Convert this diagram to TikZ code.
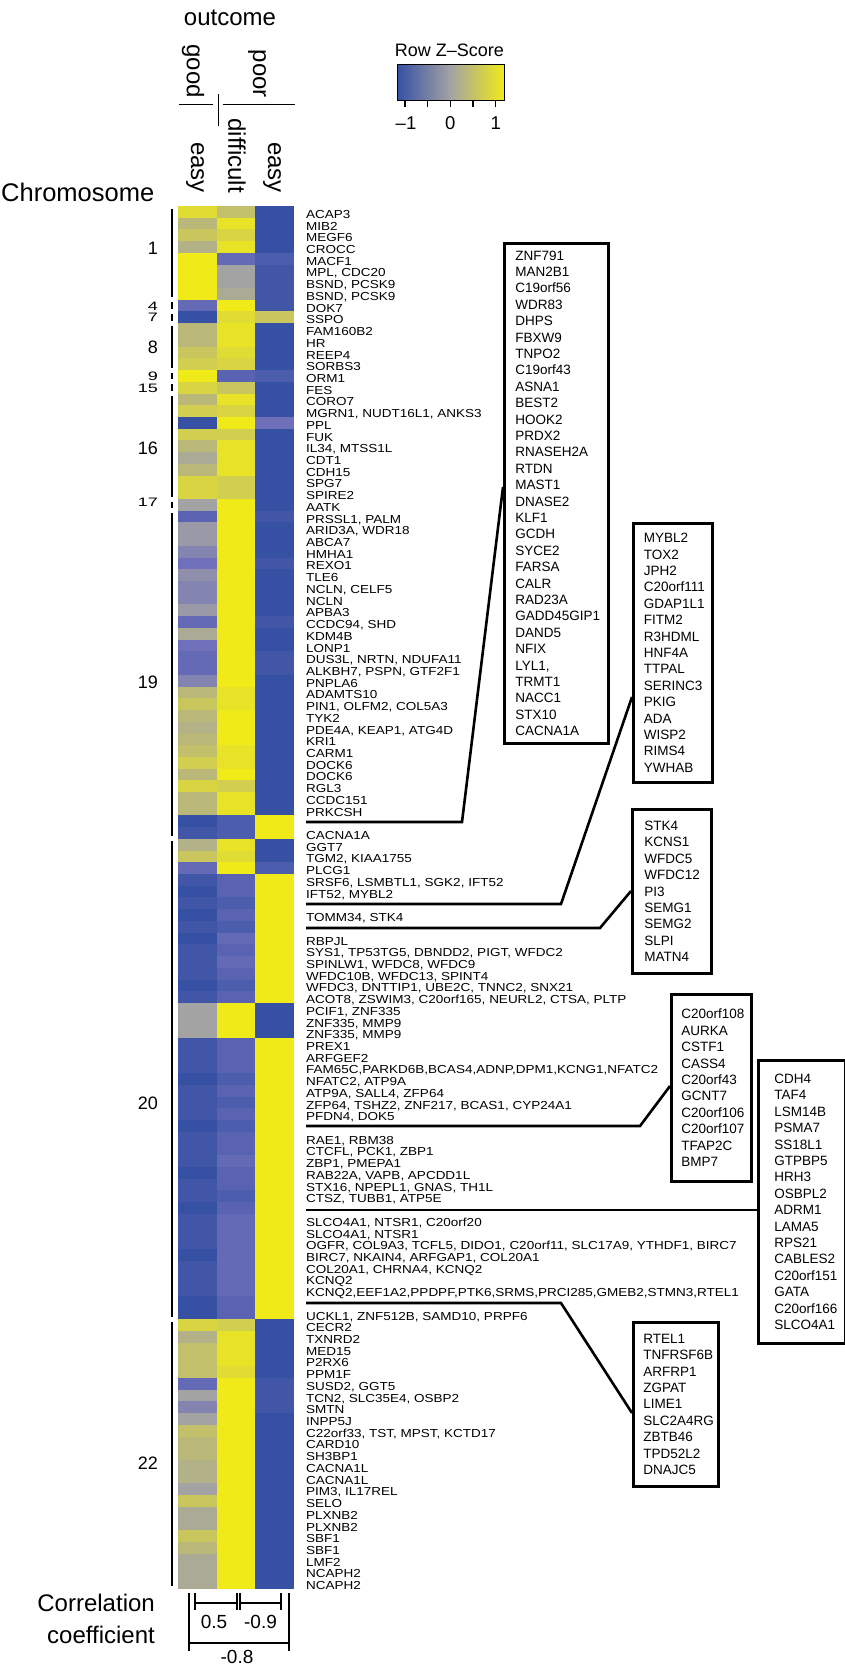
\documentclass[tikz,border=0pt]{standalone}
\usepackage{fontspec}
\setmainfont{Liberation Sans}
\usepackage{graphicx}
\usepackage{xcolor}
\usetikzlibrary{positioning}

\definecolor{hmblue}{RGB}{54,80,164}
\definecolor{hmpurp}{RGB}{112,112,186}
\definecolor{hmgray}{RGB}{163,163,163}
\definecolor{hmyel}{RGB}{240,234,24}

% squeezed row labels
\newcommand{\sq}[1]{\scalebox{1}[0.86]{#1}}
% one heatmap cell: column, row, z (-10..10)
\newcommand{\hmcell}[3]{%
  \pgfmathtruncatemacro\hmv{#3}%
  \ifnum\hmv<-5 \pgfmathtruncatemacro\hmp{20*(\hmv+10)}\colorlet{hmc}{hmpurp!\hmp!hmblue}%
  \else\ifnum\hmv<0 \pgfmathtruncatemacro\hmp{20*(\hmv+5)}\colorlet{hmc}{hmgray!\hmp!hmpurp}%
  \else \pgfmathtruncatemacro\hmp{10*\hmv}\colorlet{hmc}{hmyel!\hmp!hmgray}\fi\fi
  \fill[hmc] ({178+#1*38.67},{206+(#2-1)*11.72}) rectangle ++(39,12);}

\begin{document}
\begin{tikzpicture}[x=1pt, y=-1pt,
  rowlab/.style={anchor=base west, inner sep=0pt, font=\fontsize{13.5}{13.5}\selectfont},
  genebox/.style={draw, line width=2.6pt, anchor=north west, align=left,
    inner ysep=0pt, font=\fontsize{13.5}{16.4}\selectfont},
  chrlab/.style={anchor=east, inner sep=0pt, font=\fontsize{18}{18}\selectfont},
  head/.style={inner sep=0pt, font=\fontsize{24}{24}\selectfont},
  num/.style={inner sep=0pt, font=\fontsize{19}{19}\selectfont},
  link/.style={line width=2.6pt},
  brk/.style={line width=2.5pt}]

  \useasboundingbox (0,0) rectangle (845,1665);

  % heatmap
  \foreach \a/\b/\c [count=\r] in {
    8/4/-10, 3/9/-10, 5/7/-10, 2/9/-10, 10/-6/-8, 10/0/-9, 10/0/-9, 10/1/-9, -6/10/-9, -10/8/5,
    3/9/-10, 3/9/-10, 5/8/-10, 6/7/-10, 10/-7/-8, 7/5/-10, 3/9/-10, 6/7/-10, -10/10/-5, 6/6/-10,
    3/9/-10, 1/9/-10, 3/9/-10, 7/6/-10, 7/6/-10, 0/10/-10, -7/10/-9, -1/10/-10, -1/10/-10, -3/10/-10,
    -5/10/-9, -2/10/-10, -3/10/-10, -3/10/-10, -1/10/-10, -6/10/-9, 1/10/-10, -5/10/-10, -6/10/-9, -6/10/-9,
    -3/10/-10, 3/9/-10, 5/9/-10, 3/10/-10, 2/10/-10, 3/10/-10, 4/9/-10, 6/9/-10, 3/10/-10, 7/6/-10,
    3/9/-10, 3/9/-10, -10/-8/10, -9/-8/10, 2/9/-10, 5/8/-10, -6/10/-8, -9/-7/10, -10/-7/10, -9/-8/10,
    -10/-7/10, -9/-8/10, -10/-6/10, -9/-7/10, -9/-6/10, -9/-7/10, -10/-8/10, -9/-7/10, 0/10/-10, 0/10/-10,
    0/10/-10, -9/-7/10, -9/-7/10, -9/-7/10, -10/-8/10, -9/-7/10, -9/-8/10, -9/-7/10, -10/-8/10, -9/-7/10,
    -9/-7/10, -9/-6/10, -10/-7/10, -9/-7/10, -9/-8/10, -10/-7/10, -9/-6/10, -9/-6/10, -9/-6/10, -10/-6/10,
    -9/-6/10, -9/-6/10, -9/-6/10, -10/-7/10, -10/-7/10, 7/6/-10, 2/9/-10, 4/9/-10, 4/9/-10, 4/8/-10,
    -6/10/-9, 0/10/-9, -3/10/-9, 0/10/-10, 4/10/-10, 3/10/-10, 3/10/-10, 2/10/-10, 2/10/-10, 0/10/-10,
    5/10/-10, 1/10/-10, 1/10/-10, 5/10/-10, 3/10/-10, 1/10/-10, 1/10/-10, 1/10/-10}
    {\hmcell{0}{\r}{\a}\hmcell{1}{\r}{\b}\hmcell{2}{\r}{\c}}

  % gene labels
  \foreach \r/\g in {1/ACAP3, 2/MIB2, 3/MEGF6, 4/CROCC, 5/MACF1, 6/{MPL, CDC20},
    7/{BSND, PCSK9}, 8/{BSND, PCSK9}, 9/DOK7, 10/SSPO, 11/FAM160B2, 12/HR, 13/REEP4,
    14/SORBS3, 15/ORM1, 16/FES, 17/CORO7, 18/{MGRN1, NUDT16L1, ANKS3}, 19/PPL, 20/FUK,
    21/{IL34, MTSS1L}, 22/CDT1, 23/CDH15, 24/SPG7, 25/SPIRE2, 26/AATK, 27/{PRSSL1, PALM},
    28/{ARID3A, WDR18}, 29/ABCA7, 30/HMHA1, 31/REXO1, 32/TLE6, 33/{NCLN, CELF5}, 34/NCLN,
    35/APBA3, 36/{CCDC94, SHD}, 37/KDM4B, 38/LONP1, 39/{DUS3L, NRTN, NDUFA11},
    40/{ALKBH7, PSPN, GTF2F1}, 41/PNPLA6, 42/ADAMTS10, 43/{PIN1, OLFM2, COL5A3}, 44/TYK2,
    45/{PDE4A, KEAP1, ATG4D}, 46/KRI1, 47/CARM1, 48/DOCK6, 49/DOCK6, 50/RGL3, 51/CCDC151,
    52/PRKCSH, 54/CACNA1A, 55/GGT7, 56/{TGM2, KIAA1755}, 57/PLCG1,
    58/{SRSF6, LSMBTL1, SGK2, IFT52}, 59/{IFT52, MYBL2}, 61/{TOMM34, STK4}, 63/RBPJL,
    64/{SYS1, TP53TG5, DBNDD2, PIGT, WFDC2}, 65/{SPINLW1, WFDC8, WFDC9},
    66/{WFDC10B, WFDC13, SPINT4}, 67/{WFDC3, DNTTIP1, UBE2C, TNNC2, SNX21},
    68/{ACOT8, ZSWIM3, C20orf165, NEURL2, CTSA, PLTP}, 69/{PCIF1, ZNF335},
    70/{ZNF335, MMP9}, 71/{ZNF335, MMP9}, 72/PREX1, 73/ARFGEF2,
    74/{FAM65C,PARKD6B,BCAS4,ADNP,DPM1,KCNG1,NFATC2}, 75/{NFATC2, ATP9A},
    76/{ATP9A, SALL4, ZFP64}, 77/{ZFP64, TSHZ2, ZNF217, BCAS1, CYP24A1}, 78/{PFDN4, DOK5},
    80/{RAE1, RBM38}, 81/{CTCFL, PCK1, ZBP1}, 82/{ZBP1, PMEPA1}, 83/{RAB22A, VAPB, APCDD1L},
    84/{STX16, NPEPL1, GNAS, TH1L}, 85/{CTSZ, TUBB1, ATP5E}, 87/{SLCO4A1, NTSR1, C20orf20},
    88/{SLCO4A1, NTSR1}, 89/{OGFR, COL9A3, TCFL5, DIDO1, C20orf11, SLC17A9, YTHDF1, BIRC7},
    90/{BIRC7, NKAIN4, ARFGAP1, COL20A1}, 91/{COL20A1, CHRNA4, KCNQ2}, 92/KCNQ2,
    93/{KCNQ2,EEF1A2,PPDPF,PTK6,SRMS,PRCI285,GMEB2,STMN3,RTEL1},
    95/{UCKL1, ZNF512B, SAMD10, PRPF6}, 96/CECR2, 97/TXNRD2, 98/MED15, 99/P2RX6, 100/PPM1F,
    101/{SUSD2, GGT5}, 102/{TCN2, SLC35E4, OSBP2}, 103/SMTN, 104/INPP5J,
    105/{C22orf33, TST, MPST, KCTD17}, 106/CARD10, 107/SH3BP1, 108/CACNA1L, 109/CACNA1L,
    110/{PIM3, IL17REL}, 111/SELO, 112/PLXNB2, 113/PLXNB2, 114/SBF1, 115/SBF1, 116/LMF2,
    117/NCAPH2, 118/NCAPH2}
    \node[rowlab] (g\r) at (306,{206+(\r-0.5)*11.72+6.5}) {\sq{\g}};

  % chromosomes
  \foreach \s/\e in {1/8, 9/9, 10/10, 11/14, 15/15, 16/16, 17/25, 26/26, 27/54, 55/95, 96/118}
    \draw[line width=1.3pt] (172,{206+(\s-1)*11.72+2.5}) -- (172,{206+\e*11.72-2.5});
  \foreach \n/\y/\k in {1/248/1, 4/306.5/0.68, 7/317.5/0.68, 8/347/1, 9/376.5/0.68, 15/388.5/0.68,
    16/448/1, 17/502/0.68, 19/682/1, 20/1103/1, 22/1463/1}
    \node[chrlab] (chr\n) at (158,\y) {\scalebox{1}[\k]{\n}};
  \node[head, anchor=base west, font=\fontsize{25.5}{25.5}\selectfont] (chrom) at (1,201.7) {Chromosome};

  % column header
  \node[head] (outc) at (230,18) {outcome};
  \node[head, rotate=-90, anchor=east] (good) at (193,98) {good};
  \node[head, rotate=-90, anchor=east] (poor) at (257,98) {poor};
  \draw[line width=1.3pt] (179,104.3) -- (213,104.3) (223,104.3) -- (295,104.3)
    (218.3,94) -- (218.3,126);
  \node[head, rotate=-90, anchor=east] (easyA) at (195,193) {easy};
  \node[head, rotate=-90, anchor=east] (diff) at (237,193) {difficult};
  \node[head, rotate=-90, anchor=east] (easyB) at (272,193) {easy};

  % colour key
  \node[inner sep=0pt, font=\fontsize{18}{18}\selectfont] (zkey) at (449.3,50) {Row Z–Score};
  \shade[left color=hmblue, middle color=hmpurp, right color=hmgray] (397,64) rectangle (450.5,100);
  \shade[left color=hmgray, right color=hmyel] (450.5,64) rectangle (504,100);
  \draw[line width=1pt] (397,64) rectangle (504,100);
  \foreach \t in {405,427.7,450.3,473,495.7}
    \draw[line width=1.3pt] (\t,100) -- (\t,107);
  \foreach \t/\l in {406/–1, 450.3/0, 495.7/1}
    \node[inner sep=0pt, font=\fontsize{18.5}{18.5}\selectfont] at (\t,123) {\l};

  % gene boxes
  \node[genebox, text width=82pt, inner xsep=11pt, minimum width=104pt, minimum height=500pt]
    (boxA) at (503,242) {ZNF791\\MAN2B1\\C19orf56\\WDR83\\DHPS\\FBXW9\\TNPO2\\C19orf43\\ASNA1\\BEST2\\
    HOOK2\\PRDX2\\RNASEH2A\\RTDN\\MAST1\\DNASE2\\KLF1\\GCDH\\SYCE2\\FARSA\\CALR\\RAD23A\\
    GADD45GIP1\\DAND5\\NFIX\\LYL1,\\TRMT1\\NACC1\\STX10\\CACNA1A};
  \node[genebox, text width=58pt, inner xsep=10.5pt, minimum width=79pt, minimum height=259pt]
    (boxB) at (632,522) {MYBL2\\TOX2\\JPH2\\C20orf111\\GDAP1L1\\FITM2\\R3HDML\\HNF4A\\TTPAL\\
    SERINC3\\PKIG\\ADA\\WISP2\\RIMS4\\YWHAB};
  \node[genebox, text width=55pt, inner xsep=12pt, minimum width=79pt, minimum height=164pt]
    (boxC) at (631,808) {STK4\\KCNS1\\WFDC5\\WFDC12\\PI3\\SEMG1\\SEMG2\\SLPI\\MATN4};
  \node[genebox, text width=60pt, inner xsep=10pt, minimum width=80pt, minimum height=187pt]
    (boxD) at (670,993) {C20orf108\\AURKA\\CSTF1\\CASS4\\C20orf43\\GCNT7\\C20orf106\\C20orf107\\
    TFAP2C\\BMP7};
  \node[genebox, text width=55pt, inner xsep=16pt, minimum width=87pt, minimum height=283pt]
    (boxE) at (757,1059) {CDH4\\TAF4\\LSM14B\\PSMA7\\SS18L1\\GTPBP5\\HRH3\\OSBPL2\\ADRM1\\LAMA5\\
    RPS21\\CABLES2\\C20orf151\\GATA\\C20orf166\\SLCO4A1};
  \node[genebox, text width=65pt, inner xsep=10pt, minimum width=85pt, minimum height=164pt]
    (boxF) at (632,1321) {RTEL1\\TNFRSF6B\\ARFRP1\\ZGPAT\\LIME1\\SLC2A4RG\\ZBTB46\\TPD52L2\\DNAJC5};

  % links from the gaps to the boxes
  \coordinate (gA) at (306,822);  \coordinate (kA) at (462,822);
  \coordinate (gB) at (306,904);  \coordinate (kB) at (561,904);
  \coordinate (gC) at (306,928);  \coordinate (kC) at (600,928);
  \coordinate (gD) at (306,1126); \coordinate (kD) at (640,1126);
  \coordinate (gE) at (306,1210);
  \coordinate (gF) at (306,1303); \coordinate (kF) at (561,1303);
  \draw[link] (gA) -- (kA) -- (boxA.west |- 0,487);
  \draw[link] (gB) -- (kB) -- (boxB.west |- 0,697);
  \draw[link] (gC) -- (kC) -- (boxC.west |- 0,891);
  \draw[link] (gD) -- (kD) -- (boxD.west |- 0,1086);
  \draw[link] (gE) -- (boxE.west |- gE);
  \draw[link] (gF) -- (kF) -- (boxF.west |- 0,1413);

  % correlation brackets
  \node[head, anchor=base east] (corr) at (155,1611.7) {Correlation};
  \node[head, anchor=base east] (coef) at (155,1643) {coefficient};
  \draw[brk] (195,1593) -- (195,1610) (195,1603) -- (237,1603) (237,1593) -- (237,1610);
  \draw[brk] (240,1593) -- (240,1610) (240,1603) -- (281,1603) (281,1593) -- (281,1610);
  \draw[brk] (189,1593) -- (189,1651) (189,1643) -- (289,1643) (289,1593) -- (289,1651);
  \node[num] (rA) at (214,1622) {0.5};
  \node[num] (rB) at (260.5,1622) {-0.9};
  \node[num] (rC) at (237,1657) {-0.8};
\end{tikzpicture}
\end{document}
